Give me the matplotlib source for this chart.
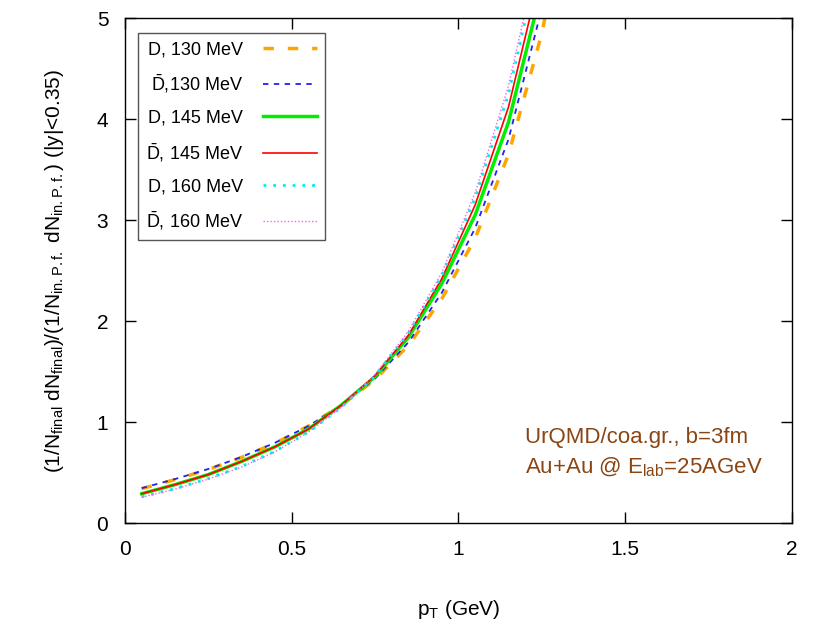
import numpy as np
import matplotlib.pyplot as plt

plt.rcParams['font.family'] = ['Liberation Sans', 'DejaVu Sans']
plt.rcParams['mathtext.fontset'] = 'custom'
plt.rcParams['mathtext.rm'] = 'Liberation Sans'
plt.rcParams['mathtext.it'] = 'Liberation Sans'

# pT bins (GeV)
pt = [0.05, 0.15, 0.25, 0.35, 0.45, 0.55, 0.65, 0.75, 0.85, 0.95, 1.05, 1.15, 1.25, 1.35]

# ratios
d130 = [0.34, 0.43, 0.53, 0.65, 0.79, 0.96, 1.17, 1.42, 1.76, 2.22, 2.82, 3.65, 4.85, 6.5]
dbar130 = [0.345, 0.435, 0.535, 0.655, 0.795, 0.96, 1.17, 1.43, 1.79, 2.28, 2.92, 3.80, 5.10, 6.8]
d145 = [0.29, 0.38, 0.48, 0.61, 0.755, 0.93, 1.17, 1.45, 1.84, 2.37, 3.05, 3.97, 5.30, 7.0]
dbar145 = [0.29, 0.38, 0.48, 0.61, 0.755, 0.93, 1.17, 1.46, 1.86, 2.42, 3.15, 4.12, 5.50, 7.3]
d160 = [0.26, 0.34, 0.44, 0.56, 0.71, 0.90, 1.15, 1.46, 1.88, 2.45, 3.22, 4.25, 5.70, 7.6]
dbar160 = [0.255, 0.335, 0.435, 0.555, 0.705, 0.90, 1.15, 1.47, 1.90, 2.48, 3.27, 4.33, 5.80, 7.8]

dbar = '$\\bar{\\mathrm{D}}$'
labels = ['D, 130 MeV', dbar + ',130 MeV', 'D, 145 MeV',
          dbar + ', 145 MeV', 'D, 160 MeV', dbar + ', 160 MeV']

fig = plt.figure(figsize=(8.3, 6.23), dpi=100)
ax = fig.add_axes([0.1506, 0.1605, 0.8036, 0.8105])

ax.plot(pt, d130, color='#ffa500', lw=2.5, ls=(0, (3, 4)), label=labels[0])
ax.plot(pt, dbar130, color='#2222ee', lw=1.3, ls=(0, (3, 3)), label=labels[1])
ax.plot(pt, d145, color='#00ee00', lw=2.5, ls='-', label=labels[2])
ax.plot(pt, dbar145, color='#ff0000', lw=1.2, ls='-', label=labels[3])
ax.plot(pt, d160, color='#00eeee', lw=2.0, ls=(0, (1, 2.5)), label=labels[4])
ax.plot(pt, dbar160, color='#ee66ee', lw=1.0, ls=(0, (1, 1.5)), label=labels[5])

ax.set_xlim(0, 2)
ax.set_ylim(0, 5)
ax.set_xticks([0, 0.5, 1, 1.5, 2])
ax.set_xticklabels(['0', '0.5', '1', '1.5', '2'])
ax.set_yticks([0, 1, 2, 3, 4, 5])
ax.tick_params(direction='in', top=True, right=True, length=8, width=1.0,
               labelsize=15, pad=12)
for s in ax.spines.values():
    s.set_linewidth(1.0)

ax.set_xlabel('p$_\\mathrm{T}$ (GeV)', fontsize=15, labelpad=28)
ax.set_ylabel('(1/N$_\\mathrm{final}$ dN$_\\mathrm{final}$)/(1/N$_\\mathrm{in{.}P{.}f{.}}$ '
              'dN$_\\mathrm{in{.}P{.}f{.}}$) (|y|<0.35)',
              fontsize=15, labelpad=22)

leg = ax.legend(loc='upper left', bbox_to_anchor=(0.0195, 0.97), fontsize=13,
                markerfirst=False, fancybox=False, framealpha=1,
                edgecolor='#555555', handlelength=3.0, labelspacing=0.8,
                borderpad=0.45, handletextpad=1.1, borderaxespad=0)
leg.get_frame().set_linewidth(1.0)

ax.text(1.2, 0.85, 'UrQMD/coa.gr., b=3fm', color='#8b4513', fontsize=16,
        va='center', ha='left')
ax.text(1.2, 0.55, 'Au+Au @ E$_\\mathrm{lab}$=25AGeV', color='#8b4513',
        fontsize=16, va='center', ha='left')

fig.savefig('out.png', dpi=100)
